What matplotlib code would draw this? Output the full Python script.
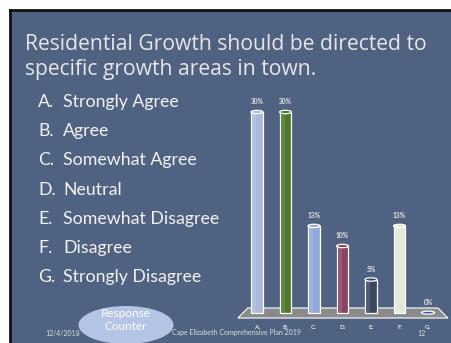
import numpy as np
import matplotlib.pyplot as plt
from matplotlib.patches import Rectangle, Ellipse, Polygon

# ============================================================
# DATOS
# ============================================================

categorias = ["A.", "B.", "C.", "D.", "E.", "F.", "G."]
respuestas = ["Strongly Agree", "Agree", "Somewhat Agree", "Neutral",
              "Somewhat Disagree", "Disagree", "Strongly Disagree"]
porcentajes = [30, 30, 13, 10, 5, 13, 0]
colores = ["#a9badb", "#4d7a2a", "#8eaadb", "#8c4465",
           "#3a4862", "#e0ead6", "#2f62a8"]

titulo = "Residential Growth should be directed to\nspecific growth areas in town."
fecha = "12/4/2018"
pie_texto = "Cape Elizabeth Comprehensive Plan 2019"
num_pagina = "12"

# ============================================================
# ESTILO
# ============================================================

plt.rcParams["font.family"] = ["Lato", "DejaVu Sans"]
FONDO = "#506281"
TEXTO = "#f2f2f2"

W, H = 451, 343
fig = plt.figure(figsize=(W / 100, H / 100), dpi=100)
fig.patch.set_facecolor("white")


def px(x, y):
    return x / W, 1 - y / H


# fondo de la diapositiva
slide = Rectangle(px(10, H), (W - 10) / W, (H - 10) / H,
                  transform=fig.transFigure, facecolor=FONDO,
                  edgecolor="none", zorder=0)
fig.patches.append(slide)
fig.lines.append(plt.Line2D([10 / W, 10 / W], [0, 1 - 10 / H],
                            transform=fig.transFigure, color="#111111", lw=2))
fig.lines.append(plt.Line2D([10 / W, 1], [1 - 10 / H, 1 - 10 / H],
                            transform=fig.transFigure, color="#111111", lw=2))

# titulo
fig.text(*px(25, 57), titulo, color="#e6e6e6", fontsize=15.2,
         family=["Open Sans", "DejaVu Sans"],
         ha="left", va="center", linespacing=1.3)

# lista de respuestas
for i, (c, r) in enumerate(zip(categorias, respuestas)):
    y = 102 + i * 29.2
    fig.text(*px(38, y), c, color=TEXTO, fontsize=12.8, ha="left", va="center")
    fig.text(*px(63, y), r, color=TEXTO, fontsize=12.8, ha="left", va="center")

# ============================================================
# GRAFICO DE BARRAS
# ============================================================

escala_y = 6.7    # px por %
escala_x = 28.5   # px por categoria
y0 = 313
x0 = 257
ymin, ymax = -1.2, 35
xmin, xmax = -0.75, 6.75

ax = fig.add_axes([(x0 + xmin * escala_x) / W,
                   (H - y0 + ymin * escala_y) / H,
                   (xmax - xmin) * escala_x / W,
                   (ymax - ymin) * escala_y / H])
ax.set_zorder(1)
ax.set_xlim(xmin, xmax)
ax.set_ylim(ymin, ymax)
ax.axis("off")

n = len(categorias)
pos = np.arange(n)

# plataforma
plataforma = Polygon([[-0.67, -0.75], [n - 0.3, -0.75],
                      [n - 0.65, 0.75], [-0.32, 0.75]],
                     closed=True, facecolor="#8a8a8a", edgecolor="white",
                     lw=0.8, zorder=1)
ax.add_patch(plataforma)

ancho = 0.42
for x, v, col in zip(pos, porcentajes, colores):
    if v > 0:
        ax.bar(x, v, width=ancho, color=col, edgecolor="white",
               linewidth=0.9, zorder=3)
        ax.bar(x - ancho * 0.18, v, width=ancho * 0.25, color="white",
               alpha=0.12, linewidth=0, zorder=4)
        ax.add_patch(Ellipse((x, v), ancho, 0.5, facecolor=col,
                             edgecolor="white", lw=0.9, zorder=5))
    else:
        ax.add_patch(Ellipse((x, 0.05), ancho * 1.1, 0.45, facecolor=col,
                             edgecolor="white", lw=0.9, zorder=5))
    ax.text(x, v + 1.0, f"{v}%", color="#e6e6e6", fontsize=4.8,
            fontweight="bold", ha="center", va="bottom", zorder=6)
    ax.text(x, -2.1, categorias[x], color="#e6e6e6", fontsize=4.5,
            fontweight="bold", ha="center", va="center", clip_on=False)

# ============================================================
# PIE DE DIAPOSITIVA
# ============================================================

elipse = Ellipse(px(126, 325), 95 / W, 38 / H, transform=fig.transFigure,
                 facecolor="#b3c4e6", edgecolor="none", zorder=2)
fig.patches.append(elipse)
fig.text(*px(126, 320), "Response\nCounter", color="white", fontsize=8.5,
         ha="center", va="center", linespacing=1.15, zorder=3)

fig.text(*px(45, 333), fecha, color="#dddddd", fontsize=5,
         ha="left", va="center")
fig.text(*px(172, 333), pie_texto, color="#dddddd", fontsize=5,
         ha="left", va="center")
fig.text(*px(417, 333), num_pagina, color="#dddddd", fontsize=5,
         ha="left", va="center")

plt.savefig("out.png", dpi=100, facecolor=fig.get_facecolor())
plt.close()
